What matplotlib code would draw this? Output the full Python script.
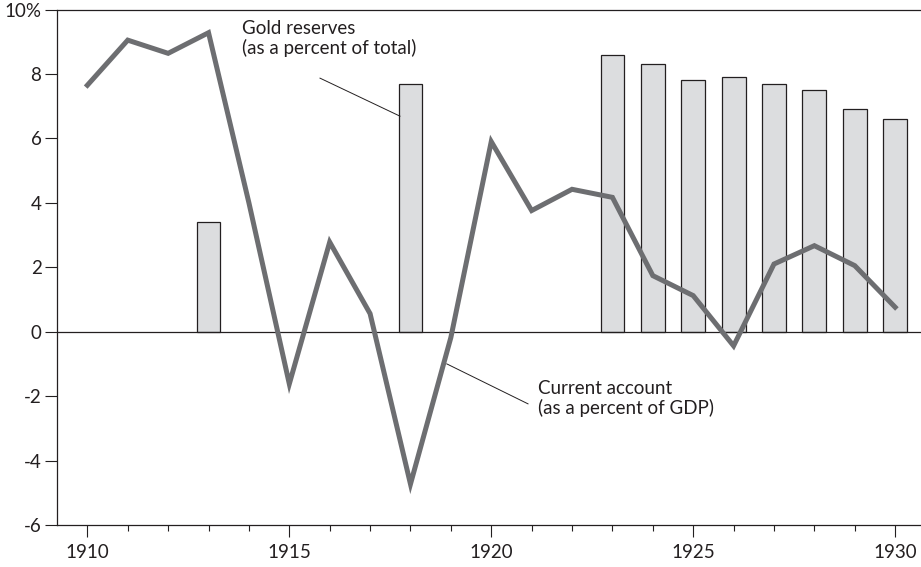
import matplotlib.pyplot as plt
from matplotlib.ticker import MultipleLocator

plt.rcParams["font.family"] = ["Lato", "DejaVu Sans"]

# current account, percent of GDP
years = list(range(1910, 1931))
current_account = [7.65, 9.05, 8.64, 9.28, 4.0, -1.62, 2.78, 0.56, -4.73, -0.18,
                   5.9, 3.76, 4.42, 4.17, 1.74, 1.12, -0.44, 2.1, 2.67, 2.05, 0.76]

# gold reserves, percent of total
gold_years = [1913, 1918, 1923, 1924, 1925, 1926, 1927, 1928, 1929, 1930]
gold_reserves = [3.4, 7.7, 8.6, 8.3, 7.8, 7.9, 7.7, 7.5, 6.9, 6.6]

y_ticks = [-6, -4, -2, 0, 2, 4, 6, 8, 10]
y_labels = ["-6", "-4", "-2", "0", "2", "4", "6", "8", "10%"]
x_ticks = [1910, 1915, 1920, 1925, 1930]

dark = "#231f20"

fig = plt.figure(figsize=(9.21, 5.67), dpi=100)
ax = fig.add_axes([0.0624, 0.0741, 0.9376, 0.9091])

ax.bar(gold_years, gold_reserves, width=0.59, color="#dcdddf",
       edgecolor=dark, linewidth=0.9, zorder=2)
ax.axhline(0, color=dark, linewidth=0.9, zorder=3)
ax.plot(years, current_account, color="#6d6e71", linewidth=3.6,
        solid_joinstyle="miter", zorder=4)

ax.set_xlim(1909.26, 1930.64)
ax.set_ylim(-6, 10)

ax.set_xticks(x_ticks)
ax.xaxis.set_minor_locator(MultipleLocator(1))
ax.set_yticks(y_ticks)
ax.set_yticklabels(y_labels)

ax.tick_params(axis="both", which="major", direction="out", length=8.5,
               width=0.8, color=dark, labelsize=13.5, labelcolor=dark)
ax.tick_params(axis="x", which="major", pad=5)
ax.tick_params(axis="y", which="major", pad=3)
ax.tick_params(axis="x", which="minor", direction="out", length=4.3,
               width=0.8, color=dark)

ax.spines["right"].set_visible(False)
for side in ["left", "bottom", "top"]:
    ax.spines[side].set_color(dark)
    ax.spines[side].set_linewidth(0.9)

# annotations
ax.text(1913.82, 9.68, "Gold reserves\n(as a percent of total)", fontsize=13.5,
        color=dark, va="top", ha="left", linespacing=1.15)
ax.plot([1915.76, 1917.74], [7.87, 6.69], color=dark, linewidth=0.7, zorder=5)

ax.text(1921.15, -1.5, "Current account\n(as a percent of GDP)", fontsize=13.5,
        color=dark, va="top", ha="left", linespacing=1.15)
ax.plot([1918.9, 1920.91], [-1.0, -2.24], color=dark, linewidth=0.7, zorder=5)

fig.savefig("out.png", dpi=100)
